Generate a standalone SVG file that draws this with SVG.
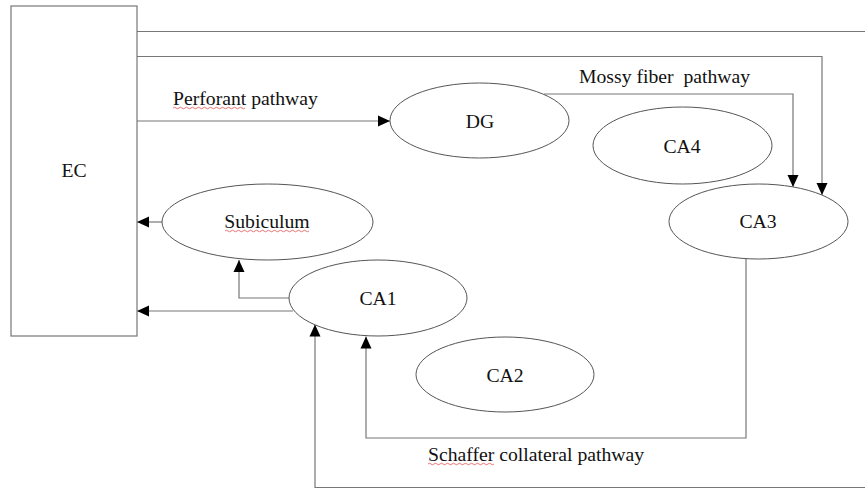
<svg xmlns="http://www.w3.org/2000/svg" width="865" height="489" viewBox="0 0 865 489">
  <style>
    .node { fill: #ffffff; stroke: #555555; stroke-width: 1; }
    .box { fill: #ffffff; stroke: #777777; stroke-width: 1.2; }
    .wire { fill: none; stroke: #777777; stroke-width: 1.2; }
    .label { font-family: "Liberation Serif", "Times New Roman", serif; font-size: 19.7px; fill: #111111; }
    .mid { text-anchor: middle; }
    .squiggle { fill: none; stroke: #e05050; stroke-width: 0.8; }
  </style>
  <defs>
    <marker id="arrow" markerUnits="userSpaceOnUse" markerWidth="12" markerHeight="12" refX="12" refY="6" orient="auto">
      <path d="M0,0.5 L12,6 L0,11.5 z" fill="#000000"/>
    </marker>
  </defs>

  <rect width="865" height="489" fill="#ffffff"/>

  <!-- connectors -->
  <g id="connectors">
    <!-- EC top line running off the right edge -->
    <path class="wire" d="M137,31.5 H865"/>
    <!-- EC to CA3 -->
    <path class="wire" d="M137,56.5 H822 V195" marker-end="url(#arrow)"/>
    <!-- Perforant pathway: EC to DG -->
    <path class="wire" d="M137,121 H390" marker-end="url(#arrow)"/>
    <!-- Mossy fiber pathway: DG to CA3 -->
    <path class="wire" d="M544,94 H793 V187" marker-end="url(#arrow)"/>
    <!-- Subiculum to EC -->
    <path class="wire" d="M162,222 H137" marker-end="url(#arrow)"/>
    <!-- CA1 to Subiculum -->
    <path class="wire" d="M289,298 H239 V260" marker-end="url(#arrow)"/>
    <!-- CA1 to EC -->
    <path class="wire" d="M293,311 H137" marker-end="url(#arrow)"/>
    <!-- Schaffer collateral pathway: CA3 to CA1 -->
    <path class="wire" d="M746,259 V438 H366 V336.5" marker-end="url(#arrow)"/>
    <!-- bottom return line into CA1 -->
    <path class="wire" d="M865,487.5 H315 V324.5" marker-end="url(#arrow)"/>
  </g>

  <!-- pathway labels -->
  <g id="pathway-labels">
    <text class="label" x="173" y="105">Perforant pathway</text>
    <path class="squiggle" d="M173,108 q1.5,-1.5 3,0 t3,0 t3,0 t3,0 t3,0 t3,0 t3,0 t3,0 t3,0 t3,0 t3,0 t3,0 t3,0 t3,0 t3,0 t3,0 t3,0 t3,0 t3,0 t3,0 t3,0 t3,0 t3,0 t3,0"/>
    <text class="label" x="579" y="83" xml:space="preserve">Mossy fiber  pathway</text>
    <text class="label" x="428" y="461">Schaffer collateral pathway</text>
    <path class="squiggle" d="M428,464 q1.5,-1.5 3,0 t3,0 t3,0 t3,0 t3,0 t3,0 t3,0 t3,0 t3,0 t3,0 t3,0 t3,0 t3,0 t3,0 t3,0 t3,0 t3,0 t3,0 t3,0 t3,0 t3,0 t3,0"/>
  </g>

  <g id="EC">
    <rect class="box" x="11" y="6" width="126" height="330"/>
    <text class="label mid" x="74" y="177">EC</text>
  </g>

  <g id="DG">
    <ellipse class="node" cx="479.5" cy="120.5" rx="89.5" ry="37.5"/>
    <text class="label mid" x="480" y="128">DG</text>
  </g>

  <g id="CA4">
    <ellipse class="node" cx="682.5" cy="145.5" rx="89.5" ry="38.5"/>
    <text class="label mid" x="682" y="153">CA4</text>
  </g>

  <g id="CA3">
    <ellipse class="node" cx="758.5" cy="221.5" rx="89.5" ry="37.5"/>
    <text class="label mid" x="758" y="228">CA3</text>
  </g>

  <g id="Subiculum">
    <ellipse class="node" cx="267.5" cy="222" rx="105.5" ry="38"/>
    <text class="label mid" x="267" y="228">Subiculum</text>
    <path class="squiggle" d="M225,231 q1.5,-1.5 3,0 t3,0 t3,0 t3,0 t3,0 t3,0 t3,0 t3,0 t3,0 t3,0 t3,0 t3,0 t3,0 t3,0 t3,0 t3,0 t3,0 t3,0 t3,0 t3,0 t3,0 t3,0 t3,0 t3,0 t3,0 t3,0 t3,0 t3,0"/>
  </g>

  <g id="CA1">
    <ellipse class="node" cx="378" cy="298" rx="89" ry="38"/>
    <text class="label mid" x="378" y="305">CA1</text>
  </g>

  <g id="CA2">
    <ellipse class="node" cx="505" cy="374.5" rx="89" ry="37.5"/>
    <text class="label mid" x="505" y="382">CA2</text>
  </g>
</svg>
